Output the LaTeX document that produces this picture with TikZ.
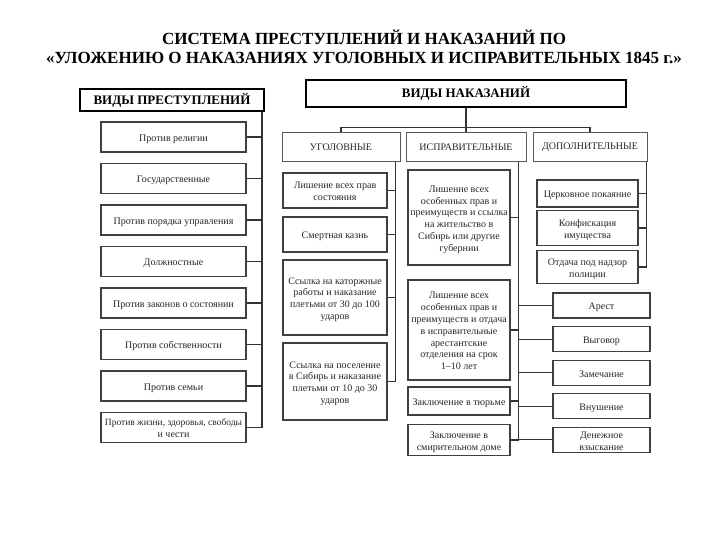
\documentclass[tikz,border=0pt]{standalone}
\usepackage{fontspec}
\setmainfont{Liberation Serif}
\usetikzlibrary{positioning}

% текст в несколько строк, по центру блока
\newcommand{\stroki}[1]{\raisebox{-2pt}[\height][\depth]{\begin{tabular}{@{}c@{}}#1\end{tabular}}}

\tikzset{
  zagolovok/.style={draw=black, line width=2pt, fill=white, inner sep=0pt,
    font=\fontsize{13}{15}\selectfont\bfseries},
  razdel/.style={draw=black!65, line width=1pt, inner sep=0pt, minimum height=29pt,
    text=black!85, font=\fontsize{10}{12}\selectfont},
  punkt/.style={draw=black!75, line width=1.1pt, inner sep=0pt,
    text=black!85, font=\fontsize{10}{11.8}\selectfont},
  svyaz/.style={line width=1.1pt, black!80},
}

\begin{document}
\begin{tikzpicture}[x=1pt,y=-1pt]
\useasboundingbox (0,0) rectangle (720,540);

% Заголовок
\node[font=\fontsize{17}{19.5}\selectfont\bfseries, align=center] (titul) at (364,47)
  {СИСТЕМА ПРЕСТУПЛЕНИЙ И НАКАЗАНИЙ ПО\\«УЛОЖЕНИЮ О НАКАЗАНИЯХ УГОЛОВНЫХ И ИСПРАВИТЕЛЬНЫХ 1845 г.»};

% Виды преступлений
\node[zagolovok, minimum width=184pt, minimum height=22pt] (vidyP) at (172,100) {ВИДЫ ПРЕСТУПЛЕНИЙ};
\coordinate (shinaP) at ([xshift=-3pt]vidyP.south east);

\foreach \t [count=\i] in {Против религии, Государственные, Против порядка управления,
    Должностные, Против законов о состоянии, Против собственности, Против семьи,
    {\fontsize{9.5}{11.5}\selectfont Против жизни, здоровья, свободы\\и чести}} {
    \node[punkt, minimum width=145pt, minimum height=30pt] (p\i) at (173.5,{137+41.5*(\i-1)}) {\stroki{\t}};
    \draw[svyaz] (p\i.east) -- (p\i.east -| shinaP);
}
\draw[svyaz] (shinaP) |- (p8.east);

% Виды наказаний
\node[zagolovok, minimum width=320pt, minimum height=27pt] (vidyN) at (466,93.5) {ВИДЫ НАКАЗАНИЙ};

\node[razdel, minimum width=118pt] (ugol) at (341,147.5) {УГОЛОВНЫЕ};
\node[razdel, minimum width=120pt] (ispr) at (466,147.5) {ИСПРАВИТЕЛЬНЫЕ};
\node[razdel, minimum width=114pt] (dop) at (590,147.5) {ДОПОЛНИТЕЛЬНЫЕ};

\draw[svyaz] (vidyN.south) -- (ispr.north);
\draw[svyaz] (ugol.north) -- ++(0,-5) -| (dop.north);

% Уголовные
\node[punkt, minimum width=104pt, minimum height=35pt] (u1) at (335,190.5) {\stroki{Лишение всех прав\\состояния}};
\node[punkt, minimum width=104pt, minimum height=35pt] (u2) at (335,234.5) {\stroki{Смертная казнь}};
\node[punkt, minimum width=104pt, minimum height=75pt] (u3) at (335,297.5)
  {\stroki{Ссылка на каторжные\\работы и наказание\\плетьми от 30 до 100\\ударов}};
\node[punkt, minimum width=104pt, minimum height=77pt] (u4) at (335,381.5)
  {\stroki{Ссылка на поселение\\в Сибирь и наказание\\плетьми от 10 до 30\\ударов}};

\coordinate (shinaU) at ([xshift=-5pt]ugol.south east);
\foreach \i in {1,2,3} \draw[svyaz] (u\i.east) -- (u\i.east -| shinaU);
\draw[svyaz] (shinaU) |- (u4.east);

% Исправительные
\node[punkt, minimum width=102pt, minimum height=95pt] (i1) at (459,217.5)
  {\stroki{Лишение всех\\особенных прав и\\преимуществ и ссылка\\на жительство в\\Сибирь или другие\\губернии}};
\node[punkt, minimum width=102pt, minimum height=100pt] (i2) at (459,330)
  {\stroki{Лишение всех\\особенных прав и\\преимуществ и отдача\\в исправительные\\арестантские\\отделения на срок\\1–10 лет}};
\node[punkt, minimum width=102pt, minimum height=28pt] (i3) at (459,401) {\stroki{Заключение в тюрьме}};
\node[punkt, minimum width=102pt, minimum height=31pt] (i4) at (459,440) {\stroki{Заключение в\\смирительном доме}};

\coordinate (shinaI) at ([xshift=-8pt]ispr.south east);
\foreach \i in {1,2,3} \draw[svyaz] (i\i.east) -- (i\i.east -| shinaI);
\draw[svyaz] (shinaI) |- (i4.east);

\foreach \t [count=\i] in {Арест, Выговор, Замечание, Внушение, {Денежное\\взыскание}} {
    \node[punkt, minimum width=97pt, minimum height=25pt] (r\i) at (601.5,{305.5+33.6*(\i-1)}) {\stroki{\t}};
    \draw[svyaz] (r\i.west -| shinaI) -- (r\i.west);
}

% Дополнительные
\node[punkt, minimum width=101pt, minimum height=27pt] (d1) at (587.5,193.5) {\stroki{Церковное покаяние}};
\node[punkt, minimum width=101pt, minimum height=35pt] (d2) at (587.5,228) {\stroki{Конфискация\\имущества}};
\node[punkt, minimum width=101pt, minimum height=33pt] (d3) at (587.5,267) {\stroki{Отдача под надзор\\полиции}};

\coordinate (shinaD) at ([xshift=-1pt]dop.south east);
\foreach \i in {1,2} \draw[svyaz] (d\i.east) -- (d\i.east -| shinaD);
\draw[svyaz] (shinaD) |- (d3.east);

\end{tikzpicture}
\end{document}
